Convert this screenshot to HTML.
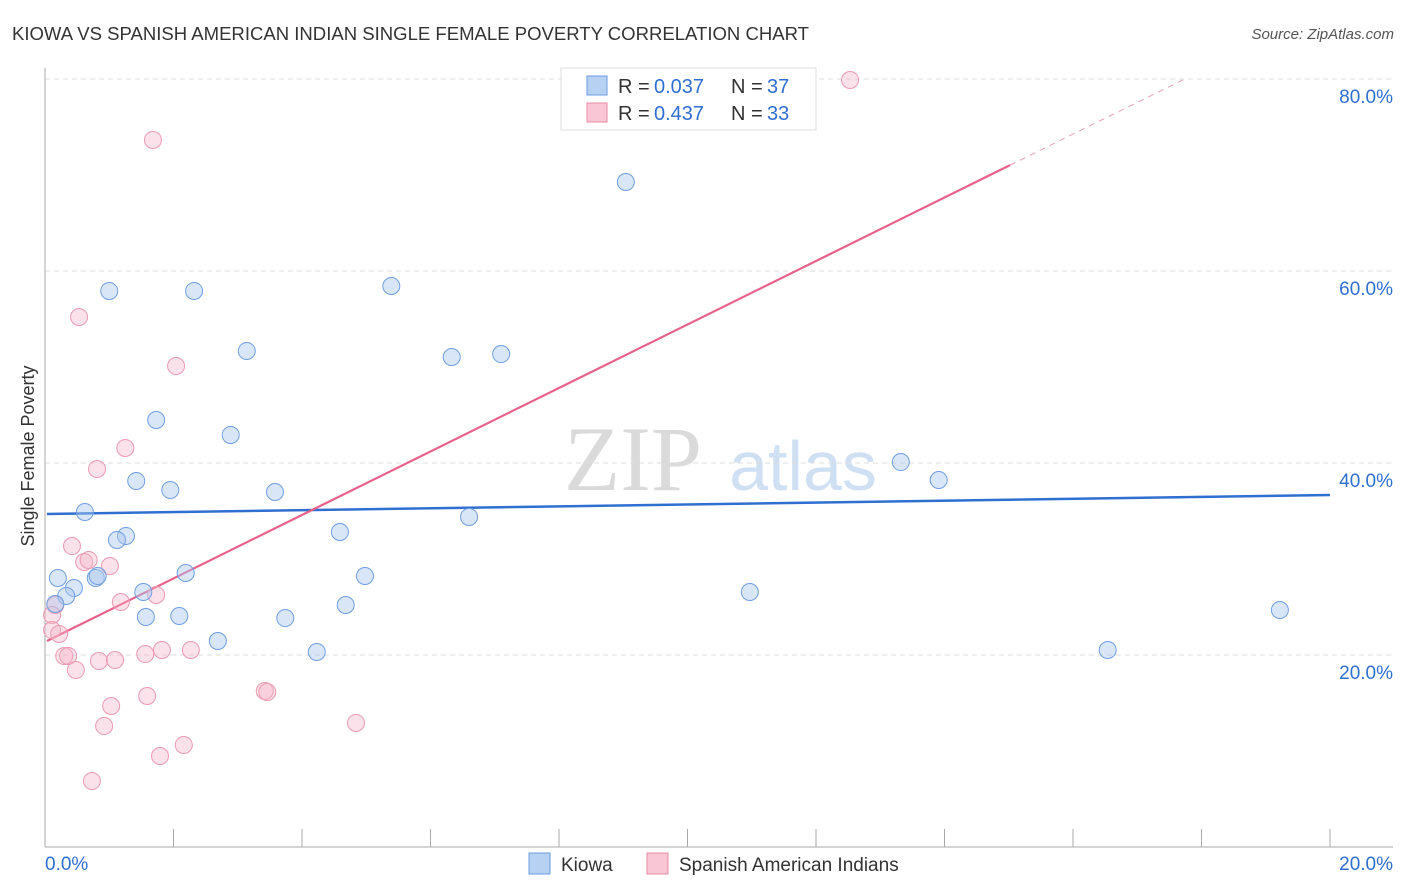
<!DOCTYPE html>
<html><head><meta charset="utf-8"><style>
body{margin:0;background:#fff;font-family:"Liberation Sans",sans-serif}
#wrap{position:relative;width:1406px;height:892px;overflow:hidden}
</style></head><body>
<div id="wrap">
<svg id="svg" width="1406" height="892" xmlns="http://www.w3.org/2000/svg" font-family="Liberation Sans, sans-serif">
<text x="12" y="40" font-size="18" fill="#333" textLength="797" lengthAdjust="spacingAndGlyphs">KIOWA VS SPANISH AMERICAN INDIAN SINGLE FEMALE POVERTY CORRELATION CHART</text>
<text x="1394" y="39" font-size="15" fill="#555" font-style="italic" text-anchor="end">Source: ZipAtlas.com</text>
<text x="34" y="456" font-size="18" fill="#333" text-anchor="middle" transform="rotate(-90 34 456)">Single Female Poverty</text>
<g><text x="633" y="490" font-size="92" font-family="Liberation Serif, serif" fill="#dadada" text-anchor="middle">ZIP</text><text x="803" y="490" font-size="70" fill="#cfe0f3" text-anchor="middle">atlas</text></g>
<g id="grid"></g><g id="axes"></g><g id="trend"></g><g id="pts"></g>
<g>
<rect x="561" y="68" width="255" height="62" fill="#fff" stroke="#ddd"/>
<rect x="587" y="76" width="20" height="19" fill="#b7d1f3" stroke="#6a9be0"/>
<text x="618" y="93" font-size="20" fill="#333">R =</text><text x="654" y="93" font-size="20" fill="#2f6fd0">0.037</text>
<text x="731" y="93" font-size="20" fill="#333">N =</text><text x="767" y="93" font-size="20" fill="#2f6fd0">37</text>
<rect x="587" y="103" width="20" height="19" fill="#f8c6d4" stroke="#e98aa5"/>
<text x="618" y="120" font-size="20" fill="#333">R =</text><text x="654" y="120" font-size="20" fill="#2f6fd0">0.437</text>
<text x="731" y="120" font-size="20" fill="#333">N =</text><text x="767" y="120" font-size="20" fill="#2f6fd0">33</text>
</g>
<g>
<rect x="529" y="853" width="21" height="21" fill="#b7d1f3" stroke="#6a9be0"/>
<text x="561" y="871" font-size="19" fill="#333">Kiowa</text>
<rect x="647" y="853" width="21" height="21" fill="#f8c6d4" stroke="#e98aa5"/>
<text x="679" y="871" font-size="19" fill="#333">Spanish American Indians</text>
</g>
</svg>
</div>
<script>
const blueX=[9.04,1.00,2.32,5.39,3.14,6.33,7.10,1.73,2.89,1.42,1.95,3.58,13.32,13.91,0.62,6.60,1.26,1.12,4.59,0.20,0.79,0.82,2.19,4.98,0.45,0.33,1.53,1.57,2.09,4.68,0.16,2.69,3.74,4.23,10.97,16.54,19.22];
const blueY=[69.27,57.92,57.92,58.44,51.67,51.04,51.35,44.48,42.92,38.13,37.19,36.98,40.10,38.23,34.90,34.38,32.40,31.98,32.81,28.02,28.02,28.23,28.54,28.23,26.98,26.15,26.56,23.96,24.06,25.21,25.31,21.46,23.85,20.31,26.56,20.52,24.69];
const pinkX=[12.53,1.68,0.53,2.04,1.25,0.81,0.42,0.61,0.68,1.01,1.18,1.73,0.16,0.11,0.11,0.22,0.30,0.36,0.48,0.84,1.09,1.56,1.82,2.27,1.03,1.59,3.42,3.46,0.92,4.84,2.16,1.79,0.73];
const pinkY=[79.90,73.65,55.21,50.10,41.56,39.38,31.35,29.69,29.90,29.27,25.52,26.25,25.21,24.17,22.60,22.19,19.90,19.90,18.44,19.38,19.48,20.10,20.52,20.52,14.69,15.73,16.25,16.15,12.60,12.92,10.63,9.48,6.88];
const blueTrend=[34.69,36.67];
const pinkTrend=[21.46,3.30];
const yTicks=[20,40,60,80];
const xTickLabels=["0.0%","20.0%"];
const NS="http://www.w3.org/2000/svg";
const X=v=>45+v*64.25, Y=v=>847-v*9.6;
function mk(t,a,p){const e=document.createElementNS(NS,t);for(const k in a)e.setAttribute(k,a[k]);document.getElementById(p).appendChild(e);return e;}
yTicks.forEach(t=>{
 const l=mk('line',{x1:45,x2:1393,y1:Y(t),y2:Y(t),stroke:'#ddd','stroke-dasharray':'5,4'},'grid');
 
 
 const tx=mk('text',{x:1393,y:Y(t)+24,'font-size':19,fill:'#2f6fd0','text-anchor':'end'},'grid');
 tx.textContent=t.toFixed(1)+'%';
 
 
});
mk('line',{x1:45,x2:45,y1:68,y2:847,stroke:'#aaa'},'axes');
mk('line',{x1:45,x2:1393,y1:847,y2:847,stroke:'#aaa'},'axes');
for(let i=0;i<=10;i++){const t=mk('line',{x1:X(i*2),x2:X(i*2),y1:829,y2:847,stroke:'#aaa'},'axes');
 
 }
const xl0=mk('text',{x:45,y:870,'font-size':19,fill:'#2f6fd0'},'axes');xl0.textContent=xTickLabels[0];


const xl1=mk('text',{x:1393,y:870,'font-size':19,fill:'#2f6fd0','text-anchor':'end'},'axes');xl1.textContent=xTickLabels[1];


function dots(xs,ys,f,s,n){xs.forEach((x,i)=>{const c=mk('circle',{cx:X(x),cy:Y(ys[i]),r:8.5,fill:f,stroke:s,'stroke-width':1},'pts');
 
 });}
dots(pinkX,pinkY,'rgba(246,180,200,0.4)','#eb9ab2','spanish-american-indian-point');
dots(blueX,blueY,'rgba(170,200,240,0.45)','#6f9fe0','kiowa-point');
const bt=mk('line',{x1:X(0.03),y1:Y(blueTrend[0]),x2:X(20),y2:Y(blueTrend[1]),stroke:'#2f6fd0','stroke-width':2.5},'trend');


const pe=15.02, pTop=(80-pinkTrend[0])/pinkTrend[1];
const pt=mk('line',{x1:X(0.03),y1:Y(pinkTrend[0]),x2:X(pe),y2:Y(pinkTrend[0]+pinkTrend[1]*pe),stroke:'#e8608a','stroke-width':2.2},'trend');


const pd=mk('line',{x1:X(pe),y1:Y(pinkTrend[0]+pinkTrend[1]*pe),x2:X(pTop),y2:Y(80),stroke:'#e8a0b6','stroke-width':1,'stroke-dasharray':'6,5'},'trend');


</script>
</body></html>
